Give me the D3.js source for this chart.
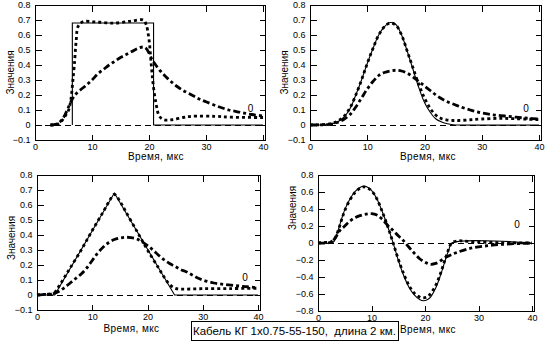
<!DOCTYPE html>
<html><head><meta charset="utf-8">
<script src="https://cdn.jsdelivr.net/npm/d3@7"></script>
<style>
body{margin:0;background:#fff}
svg{display:block}
text{font-family:"Liberation Sans",Arial,sans-serif;fill:#000}
</style>
</head><body>
<svg id="c" width="547" height="349"></svg>
<script>
// ---------- DATA ----------
const xTicks = [0, 10, 20, 30, 40];
const yTicksA = [-0.1, 0, 0.1, 0.2, 0.3, 0.4, 0.5, 0.6, 0.7, 0.8];
const yLabelsA = ["−0.1", "0", "0.1", "0.2", "0.3", "0.4", "0.5", "0.6", "0.7", "0.8"];
const yTicksB = [-0.8, -0.6, -0.4, -0.2, 0, 0.2, 0.4, 0.6, 0.8];
const yLabelsB = ["−0.8", "−0.6", "−0.4", "−0.2", "0", "0.2", "0.4", "0.6", "0.8"];
const xTitle = "Время, мкс";
const yTitle = "Значения";
const curveLabel = "0";
const caption = "Кабель КГ 1x0.75-55-150,  длина 2 км.";

// Panel 1 (top-left): rectangular pulse
const tlSolid = [[6.55,0],[6.55,0.68],[20.8,0.68],[20.8,0],[40,0]];
const tlDotted = [[2.7,0],[3.8,0.003],[4.5,0.02],[5.3,0.06],[5.9,0.1],[6.3,0.17],[6.6,0.28],[6.9,0.4],[7.2,0.55],[7.6,0.66],[8.5,0.69],[10,0.688],[11.4,0.685],[13,0.68],[14.3,0.68],[16,0.688],[17.2,0.695],[19,0.7],[19.5,0.67],[20,0.57],[20.4,0.4],[20.7,0.28],[21.2,0.15],[21.8,0.06],[22.6,0.035],[24,0.035],[26,0.05],[27.5,0.058],[31.5,0.058],[34.4,0.052],[40,0.05]];
const tlDashDot = [[2.7,0],[4,0.01],[5,0.05],[6,0.13],[6.5,0.17],[7,0.2],[8,0.235],[9,0.265],[10,0.3],[11,0.34],[12,0.37],[13,0.4],[14,0.425],[15,0.45],[16,0.47],[17,0.49],[18,0.51],[19,0.52],[19.5,0.51],[20,0.48],[20.5,0.44],[21,0.41],[22,0.36],[23,0.32],[24,0.285],[25,0.255],[26,0.23],[27,0.21],[28,0.19],[29,0.17],[30,0.155],[32,0.125],[34,0.1],[36,0.085],[38,0.07],[40,0.06]];

// Panel 2 (top-right): bell pulse
const trSolid = [[0,0],[2,0],[3,0.003],[4,0.01],[5,0.025],[6,0.055],[7,0.11],[8,0.2],[9,0.3],[10,0.41],[11,0.51],[12,0.6],[13,0.655],[14,0.683],[15,0.67],[16,0.6],[17,0.49],[18,0.37],[19,0.25],[20,0.15],[21,0.085],[22,0.04],[23,0.02],[24,0.008],[25,0.002],[26,0],[40,0]];
const trDotted = [[0,0],[3,0.005],[4,0.012],[5,0.03],[6,0.06],[7,0.115],[8,0.2],[9,0.3],[10,0.41],[11,0.51],[12,0.6],[13,0.655],[14,0.68],[15,0.665],[16,0.6],[17,0.49],[18,0.38],[19,0.27],[20,0.18],[21,0.11],[22,0.065],[23,0.042],[24,0.033],[25,0.03],[26,0.03],[28,0.035],[30,0.04],[33,0.044],[36,0.042],[40,0.035]];
const trDashDot = [[0,0],[3,0.002],[4,0.008],[5,0.02],[6,0.04],[7,0.07],[8,0.12],[9,0.18],[10,0.24],[11,0.29],[12,0.33],[13,0.35],[14,0.36],[15,0.365],[16,0.36],[17,0.345],[18,0.32],[19,0.29],[20,0.26],[21,0.23],[22,0.2],[23,0.175],[24,0.155],[25,0.14],[26,0.125],[28,0.1],[30,0.08],[32,0.068],[34,0.06],[36,0.052],[38,0.045],[40,0.04]];

// Panel 3 (bottom-left): triangular pulse
const blSolid = [[0,0],[3.2,0],[14,0.68],[24.9,0],[40,0]];
const blDotted = [[0,0],[1,0.003],[2,0.005],[3,0.01],[4,0.06],[5,0.12],[6,0.18],[8,0.3],[10,0.43],[12,0.555],[13,0.62],[14,0.67],[15,0.625],[16,0.56],[18,0.43],[20,0.3],[22,0.18],[23,0.12],[24,0.07],[25,0.045],[26,0.04],[30,0.042],[35,0.043],[40,0.045]];
const blDashDot = [[0,0],[1,0.003],[2,0.005],[3,0.01],[4,0.025],[5,0.05],[6,0.08],[7,0.11],[8,0.14],[9,0.18],[10,0.23],[11,0.28],[12,0.32],[13,0.35],[14,0.37],[15,0.38],[16,0.385],[17,0.383],[18,0.375],[19,0.355],[20,0.33],[21,0.3],[22,0.265],[23,0.235],[24,0.21],[25,0.19],[26,0.17],[27,0.155],[28,0.135],[29,0.115],[30,0.1],[32,0.08],[34,0.07],[36,0.062],[38,0.055],[40,0.048]];

// Panel 4 (bottom-right): bipolar pulse
const brSolid = [[0,0],[2.5,0],[3,0.02],[3.5,0.1],[4,0.2],[4.5,0.3],[5,0.39],[6,0.52],[7,0.61],[8,0.66],[8.5,0.668],[9,0.665],[10,0.62],[11,0.52],[12,0.37],[13,0.2],[14,0.01],[15,-0.2],[16,-0.38],[17,-0.52],[18,-0.61],[19,-0.665],[19.7,-0.68],[20.5,-0.665],[21,-0.64],[22,-0.53],[23,-0.36],[24,-0.16],[24.5,-0.07],[25,0],[40,0]];
const brDotted = [[0,0],[1,0.005],[2,0.01],[2.5,0.015],[3,0.04],[3.5,0.1],[4,0.19],[4.5,0.29],[5,0.38],[6,0.51],[7,0.6],[8,0.65],[8.5,0.66],[9,0.655],[10,0.615],[11,0.52],[12,0.37],[13,0.2],[14,0.01],[15,-0.19],[16,-0.36],[17,-0.5],[18,-0.59],[19,-0.635],[19.7,-0.645],[20.5,-0.63],[21,-0.6],[22,-0.5],[23,-0.34],[24,-0.15],[25,0],[26,0.025],[27,0.025],[28,0.02],[30,0.012],[33,0.006],[36,0.002],[40,0]];
const brDashDot = [[0,0],[2,0.003],[3,0.04],[4,0.14],[5,0.2],[6,0.26],[7,0.3],[8,0.325],[9,0.34],[10,0.345],[11,0.33],[12,0.28],[13,0.21],[14,0.15],[15,0.085],[16,0.025],[17,-0.05],[18,-0.12],[19,-0.185],[20,-0.225],[21,-0.25],[22,-0.24],[23,-0.205],[24,-0.165],[25,-0.135],[26,-0.11],[28,-0.07],[30,-0.045],[32,-0.03],[34,-0.018],[36,-0.01],[38,-0.005],[40,0]];

// ---------- DRAW ----------
const svg = d3.select("#c");
const FONT = '"Liberation Sans",Arial,sans-serif';

const panels = [
  {x0:35, x40:263, xR:265, yTop:5, yBot:140, yd:[-0.1,0.8], yt:yTicksA, yl:yLabelsA,
   solid:tlSolid, solidLinear:true, dotted:tlDotted, dash:tlDashDot,
   ytx:10, yty:72.5, xtx:156, xty:160, lx:250.5, ly:112},
  {x0:310, x40:539, xR:541, yTop:5, yBot:140, yd:[-0.1,0.8], yt:yTicksA, yl:yLabelsA,
   solid:trSolid, solidLinear:false, dotted:trDotted, dash:trDashDot,
   ytx:284, yty:72.5, xtx:428, xty:160, lx:526, ly:112},
  {x0:37, x40:258, xR:260, yTop:175, yBot:310, yd:[-0.1,0.8], yt:yTicksA, yl:yLabelsA,
   solid:blSolid, solidLinear:true, dotted:blDotted, dash:blDashDot,
   ytx:11, yty:238, xtx:131.5, xty:332, lx:245, ly:281},
  {x0:318, x40:532, xR:534, yTop:175, yBot:311, yd:[-0.8,0.8], yt:yTicksB, yl:yLabelsB,
   solid:brSolid, solidLinear:false, dotted:brDotted, dash:brDashDot,
   ytx:292, yty:208, xtx:428, xty:333, lx:517, ly:228}
];

panels.forEach(p => {
  const x = d3.scaleLinear().domain([0,40]).range([p.x0, p.x40]);
  const y = d3.scaleLinear().domain(p.yd).range([p.yBot, p.yTop]);
  const g = svg.append("g");

  // box
  g.append("rect")
    .attr("x", p.x0 + 0.5).attr("y", p.yTop + 0.5)
    .attr("width", p.xR - p.x0).attr("height", p.yBot - p.yTop)
    .attr("fill", "none").attr("stroke", "#000").attr("stroke-width", 1)
    .attr("shape-rendering", "crispEdges");

  const style = sel => {
    sel.select(".domain").remove();
    sel.attr("font-family", FONT).attr("font-size", 9);
    sel.selectAll("line").attr("stroke", "#000").attr("shape-rendering", "crispEdges");
    sel.selectAll("text").attr("fill", "#000");
  };

  g.append("g").attr("transform", `translate(${p.x0 + 0.5},0)`)
    .call(d3.axisLeft(y).tickValues(p.yt).tickSize(-6).tickPadding(5)
      .tickFormat((d, i) => p.yl[i])).call(style);
  g.append("g").attr("transform", `translate(${p.xR + 0.5},0)`)
    .call(d3.axisRight(y).tickValues(p.yt).tickSize(-6).tickFormat("")).call(style);
  g.append("g").attr("transform", `translate(0,${p.yBot + 0.5})`)
    .call(d3.axisBottom(x).tickValues(xTicks).tickSize(-6).tickPadding(3)
      .tickFormat(d3.format("d"))).call(style);
  g.append("g").attr("transform", `translate(0,${p.yTop + 0.5})`)
    .call(d3.axisTop(x).tickValues(xTicks).tickSize(-6).tickFormat("")).call(style);

  // baseline y=0 dashed
  g.append("line")
    .attr("x1", x(0)).attr("x2", x(40)).attr("y1", y(0) + 0.5).attr("y2", y(0) + 0.5)
    .attr("stroke", "#000").attr("stroke-width", 1).attr("stroke-dasharray", "6,4")
    .attr("shape-rendering", "crispEdges");

  const smooth = d3.line().x(d => x(d[0])).y(d => y(d[1])).curve(d3.curveCatmullRom.alpha(0.5));
  const linear = d3.line().x(d => x(d[0])).y(d => y(d[1]));

  g.append("path").attr("d", (p.solidLinear ? linear : smooth)(p.solid))
    .attr("fill", "none").attr("stroke", "#000").attr("stroke-width", 1.1);
  g.append("path").attr("d", smooth(p.dotted))
    .attr("fill", "none").attr("stroke", "#000").attr("stroke-width", 2.8)
    .attr("stroke-dasharray", "3,3");
  g.append("path").attr("d", smooth(p.dash))
    .attr("fill", "none").attr("stroke", "#000").attr("stroke-width", 2.8)
    .attr("stroke-dasharray", "7,3,3,3");

  // titles
  g.append("text").attr("x", p.xtx).attr("y", p.xty).attr("text-anchor", "middle")
    .attr("font-size", 10).attr("letter-spacing", 0.4).text(xTitle);
  g.append("text").attr("transform", `translate(${p.ytx},${p.yty}) rotate(-90)`)
    .attr("text-anchor", "middle").attr("dy", "0.35em").attr("font-size", 10).text(yTitle);
  g.append("text").attr("x", p.lx).attr("y", p.ly).attr("text-anchor", "middle")
    .attr("font-size", 10).text(curveLabel);
});

// caption box
const cap = svg.append("g");
const ct = cap.append("text").attr("x", 193).attr("y", 335).attr("font-size", 11.5)
  .attr("xml:space", "preserve").style("white-space", "pre").text(caption);
const bb = ct.node().getBBox();
cap.insert("rect", "text")
  .attr("x", Math.round(bb.x - 2) + 0.5).attr("y", 321.5)
  .attr("width", Math.round(bb.width + 4)).attr("height", 19)
  .attr("fill", "#fff").attr("stroke", "#000").attr("shape-rendering", "crispEdges");
</script>
</body></html>
